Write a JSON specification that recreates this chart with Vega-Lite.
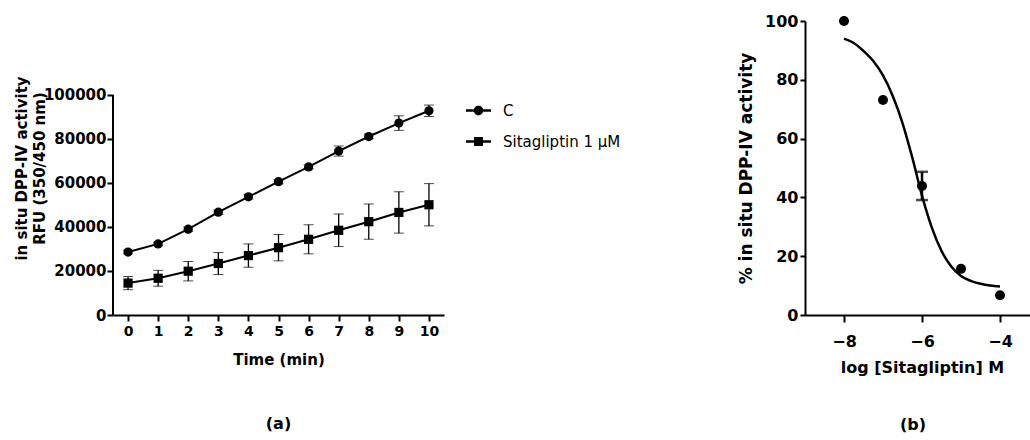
{
  "$schema": "https://vega.github.io/schema/vega-lite/v6.json",
  "padding": {"left": 14, "top": 13, "right": 0, "bottom": 0},
  "background": "white",
  "config": {
    "font": "DejaVu Sans",
    "view": {"stroke": null},
    "axis": {
      "grid": false,
      "domainColor": "black",
      "domainWidth": 2,
      "tickColor": "black",
      "tickWidth": 2,
      "labelColor": "black",
      "labelFont": "DejaVu Sans",
      "labelFontWeight": "bold",
      "titleColor": "black",
      "titleFont": "DejaVu Sans",
      "titleFontWeight": "bold",
      "labelOverlap": false
    },
    "legend": {
      "labelFont": "DejaVu Sans",
      "labelColor": "black"
    },
    "title": {"font": "DejaVu Sans", "fontWeight": "bold", "color": "black"}
  },
  "datasets": {
    "kinetics": [
      {"t": 0, "series": "C", "rfu": 28600, "lo": 27800, "hi": 29400},
      {"t": 1, "series": "C", "rfu": 32300, "lo": 31500, "hi": 33100},
      {"t": 2, "series": "C", "rfu": 39000, "lo": 38000, "hi": 40000},
      {"t": 3, "series": "C", "rfu": 46700, "lo": 45700, "hi": 47700},
      {"t": 4, "series": "C", "rfu": 53700, "lo": 52700, "hi": 54700},
      {"t": 5, "series": "C", "rfu": 60600, "lo": 59600, "hi": 61600},
      {"t": 6, "series": "C", "rfu": 67300, "lo": 66300, "hi": 68300},
      {"t": 7, "series": "C", "rfu": 74500, "lo": 72200, "hi": 76800},
      {"t": 8, "series": "C", "rfu": 81100, "lo": 80100, "hi": 82100},
      {"t": 9, "series": "C", "rfu": 87200, "lo": 83900, "hi": 90500},
      {"t": 10, "series": "C", "rfu": 92800, "lo": 90200, "hi": 95400},
      {"t": 0, "series": "Sitagliptin 1 µM", "rfu": 14500, "lo": 11500, "hi": 17500},
      {"t": 1, "series": "Sitagliptin 1 µM", "rfu": 16700, "lo": 13100, "hi": 20300},
      {"t": 2, "series": "Sitagliptin 1 µM", "rfu": 19900, "lo": 15500, "hi": 24300},
      {"t": 3, "series": "Sitagliptin 1 µM", "rfu": 23400, "lo": 18400, "hi": 28400},
      {"t": 4, "series": "Sitagliptin 1 µM", "rfu": 27000, "lo": 21700, "hi": 32300},
      {"t": 5, "series": "Sitagliptin 1 µM", "rfu": 30600, "lo": 24600, "hi": 36600},
      {"t": 6, "series": "Sitagliptin 1 µM", "rfu": 34400, "lo": 27800, "hi": 41000},
      {"t": 7, "series": "Sitagliptin 1 µM", "rfu": 38500, "lo": 31100, "hi": 45900},
      {"t": 8, "series": "Sitagliptin 1 µM", "rfu": 42400, "lo": 34400, "hi": 50400},
      {"t": 9, "series": "Sitagliptin 1 µM", "rfu": 46600, "lo": 37200, "hi": 56000},
      {"t": 10, "series": "Sitagliptin 1 µM", "rfu": 50100, "lo": 40500, "hi": 59700}
    ],
    "axisline": [{"t": -0.5, "lo": 0, "hi": 100000}],
    "dose": [
      {"logc": -8, "pct": 100},
      {"logc": -7, "pct": 73.1},
      {"logc": -6, "pct": 43.9, "lo": 39.1, "hi": 48.7},
      {"logc": -5, "pct": 15.7},
      {"logc": -4, "pct": 6.7}
    ],
    "fit": [
      {"logc": -8.0, "pct": 94.0},
      {"logc": -7.75, "pct": 92.5},
      {"logc": -7.5, "pct": 89.8},
      {"logc": -7.25, "pct": 86.4},
      {"logc": -7.0, "pct": 81.5},
      {"logc": -6.75, "pct": 74.5},
      {"logc": -6.5, "pct": 65.3},
      {"logc": -6.25, "pct": 53.6},
      {"logc": -6.0, "pct": 40.6},
      {"logc": -5.75, "pct": 29.8},
      {"logc": -5.5, "pct": 21.8},
      {"logc": -5.25, "pct": 16.5},
      {"logc": -5.0, "pct": 13.3},
      {"logc": -4.75, "pct": 11.6},
      {"logc": -4.5, "pct": 10.6},
      {"logc": -4.25, "pct": 10.0},
      {"logc": -4.0, "pct": 9.7}
    ]
  },
  "spacing": 116,
  "hconcat": [
    {
      "width": 331,
      "height": 294,
      "title": {"text": "(a)", "orient": "bottom", "fontSize": 16, "offset": 49},
      "layer": [
        {
          "data": {"name": "axisline"},
          "mark": {"type": "rule", "color": "black", "strokeWidth": 2},
          "encoding": {
            "x": {"field": "t", "type": "quantitative", "title": "Time (min)",
              "scale": {"domain": [-0.5, 10.5], "nice": false, "zero": false},
              "axis": {"values": [0,1,2,3,4,5,6,7,8,9,10], "labelFontSize": 14, "titleFontSize": 15, "tickSize": 6, "labelPadding": 3, "titlePadding": 14}},
            "y": {"field": "lo", "type": "quantitative", "title": ["in situ DPP-IV activity", "RFU (350/450 nm)"],
              "scale": {"domain": [0, 133600], "nice": false},
              "axis": {"values": [0, 20000, 40000, 60000, 80000, 100000], "format": "d", "domain": false, "labelFontSize": 15, "titleFontSize": 15, "titleLineHeight": 18, "tickSize": 6, "labelPadding": 1, "titlePadding": -4}},
            "y2": {"field": "hi"}
          }
        },
        {
          "data": {"name": "kinetics"},
          "mark": {"type": "errorbar", "color": "black", "ticks": {"size": 10}, "rule": {"strokeWidth": 1.3}},
          "encoding": {
            "x": {"field": "t", "type": "quantitative", "title": "Time (min)",
              "scale": {"domain": [-0.5, 10.5], "nice": false, "zero": false},
              "axis": {"values": [0,1,2,3,4,5,6,7,8,9,10], "labelFontSize": 14, "titleFontSize": 15, "tickSize": 6, "labelPadding": 3, "titlePadding": 14}},
            "y": {"field": "lo", "type": "quantitative", "title": ["in situ DPP-IV activity", "RFU (350/450 nm)"],
              "scale": {"domain": [0, 133600], "nice": false},
              "axis": {"values": [0, 20000, 40000, 60000, 80000, 100000], "format": "d", "domain": false, "labelFontSize": 15, "titleFontSize": 15, "titleLineHeight": 18, "tickSize": 6, "labelPadding": 1, "titlePadding": -4}},
            "y2": {"field": "hi"},
            "detail": {"field": "series"}
          }
        },
        {
          "data": {"name": "kinetics"},
          "mark": {"type": "line", "color": "black", "strokeWidth": 2},
          "encoding": {
            "x": {"field": "t", "type": "quantitative", "title": "Time (min)",
              "scale": {"domain": [-0.5, 10.5], "nice": false, "zero": false},
              "axis": {"values": [0,1,2,3,4,5,6,7,8,9,10], "labelFontSize": 14, "titleFontSize": 15, "tickSize": 6, "labelPadding": 3, "titlePadding": 14}},
            "y": {"field": "rfu", "type": "quantitative", "title": ["in situ DPP-IV activity", "RFU (350/450 nm)"],
              "scale": {"domain": [0, 133600], "nice": false},
              "axis": {"values": [0, 20000, 40000, 60000, 80000, 100000], "format": "d", "domain": false, "labelFontSize": 15, "titleFontSize": 15, "titleLineHeight": 18, "tickSize": 6, "labelPadding": 1, "titlePadding": -4}},
            "detail": {"field": "series"}
          }
        },
        {
          "data": {"name": "kinetics"},
          "transform": [{"filter": "datum.series === 'C'"}],
          "mark": {"type": "point", "filled": true, "color": "black", "opacity": 1, "size": 85, "shape": "circle"},
          "encoding": {
            "x": {"field": "t", "type": "quantitative", "title": "Time (min)",
              "scale": {"domain": [-0.5, 10.5], "nice": false, "zero": false},
              "axis": {"values": [0,1,2,3,4,5,6,7,8,9,10], "labelFontSize": 14, "titleFontSize": 15, "tickSize": 6, "labelPadding": 3, "titlePadding": 14}},
            "y": {"field": "rfu", "type": "quantitative", "title": ["in situ DPP-IV activity", "RFU (350/450 nm)"],
              "scale": {"domain": [0, 133600], "nice": false},
              "axis": {"values": [0, 20000, 40000, 60000, 80000, 100000], "format": "d", "domain": false, "labelFontSize": 15, "titleFontSize": 15, "titleLineHeight": 18, "tickSize": 6, "labelPadding": 1, "titlePadding": -4}}
          }
        },
        {
          "data": {"name": "kinetics"},
          "transform": [{"filter": "datum.series !== 'C'"}],
          "mark": {"type": "point", "filled": true, "color": "black", "opacity": 1, "size": 85, "shape": "square"},
          "encoding": {
            "x": {"field": "t", "type": "quantitative", "title": "Time (min)",
              "scale": {"domain": [-0.5, 10.5], "nice": false, "zero": false},
              "axis": {"values": [0,1,2,3,4,5,6,7,8,9,10], "labelFontSize": 14, "titleFontSize": 15, "tickSize": 6, "labelPadding": 3, "titlePadding": 14}},
            "y": {"field": "rfu", "type": "quantitative", "title": ["in situ DPP-IV activity", "RFU (350/450 nm)"],
              "scale": {"domain": [0, 133600], "nice": false},
              "axis": {"values": [0, 20000, 40000, 60000, 80000, 100000], "format": "d", "domain": false, "labelFontSize": 15, "titleFontSize": 15, "titleLineHeight": 18, "tickSize": 6, "labelPadding": 1, "titlePadding": -4}}
          }
        },
        {
          "data": {"name": "kinetics"},
          "mark": {"type": "point", "filled": true, "color": "black", "opacity": 0, "size": 85},
          "encoding": {
            "x": {"field": "t", "type": "quantitative", "title": "Time (min)",
              "scale": {"domain": [-0.5, 10.5], "nice": false, "zero": false},
              "axis": {"values": [0,1,2,3,4,5,6,7,8,9,10], "labelFontSize": 14, "titleFontSize": 15, "tickSize": 6, "labelPadding": 3, "titlePadding": 14}},
            "y": {"field": "rfu", "type": "quantitative", "title": ["in situ DPP-IV activity", "RFU (350/450 nm)"],
              "scale": {"domain": [0, 133600], "nice": false},
              "axis": {"values": [0, 20000, 40000, 60000, 80000, 100000], "format": "d", "domain": false, "labelFontSize": 15, "titleFontSize": 15, "titleLineHeight": 18, "tickSize": 6, "labelPadding": 1, "titlePadding": -4}},
            "shape": {
              "field": "series", "type": "nominal",
              "scale": {"domain": ["C", "Sitagliptin 1 µM"], "range": ["M-1,-0.1H1V0.1H-1ZM0.38,0A0.38,0.38 0 1 1 -0.38,0A0.38,0.38 0 1 1 0.38,0Z", "M-1,-0.1H1V0.1H-1ZM-0.36,-0.36H0.36V0.36H-0.36Z"]},
              "legend": {
                "title": null,
                "orient": "none",
                "legendX": 352,
                "legendY": 76,
                "padding": 0,
                "labelFontSize": 15,
                "labelOffset": 11,
                "rowPadding": 9,
                "symbolSize": 625,
                "symbolOpacity": 1,
                "symbolFillColor": "black"
              }
            }
          }
        }
      ]
    },
    {
      "width": 234,
      "height": 294,
      "title": {"text": "(b)", "orient": "bottom", "fontSize": 16, "offset": 42, "dx": -9},
      "layer": [
        {
          "data": {"name": "fit"},
          "mark": {"type": "line", "color": "black", "strokeWidth": 2.5, "interpolate": "monotone"},
          "encoding": {
            "x": {"field": "logc", "type": "quantitative", "title": "log [Sitagliptin] M",
              "scale": {"domain": [-9, -3], "nice": false, "zero": false},
              "axis": {"values": [-8, -6, -4], "labelFontSize": 16, "titleFontSize": 16, "tickSize": 7, "labelPadding": 11, "titlePadding": 10}},
            "y": {"field": "pct", "type": "quantitative", "title": "% in situ DPP-IV activity",
              "scale": {"domain": [0, 100], "nice": false},
              "axis": {"values": [0, 20, 40, 60, 80, 100], "labelFontSize": 16, "titleFontSize": 17, "tickSize": 5, "labelPadding": 2, "titlePadding": 9}}
          }
        },
        {
          "data": {"name": "dose"},
          "transform": [{"filter": "isValid(datum.lo)"}],
          "mark": {"type": "errorbar", "color": "black", "ticks": {"size": 12, "thickness": 2.5}, "rule": {"strokeWidth": 2.5}},
          "encoding": {
            "x": {"field": "logc", "type": "quantitative", "title": "log [Sitagliptin] M",
              "scale": {"domain": [-9, -3], "nice": false, "zero": false},
              "axis": {"values": [-8, -6, -4], "labelFontSize": 16, "titleFontSize": 16, "tickSize": 7, "labelPadding": 11, "titlePadding": 10}},
            "y": {"field": "lo", "type": "quantitative", "title": "% in situ DPP-IV activity",
              "scale": {"domain": [0, 100], "nice": false},
              "axis": {"values": [0, 20, 40, 60, 80, 100], "labelFontSize": 16, "titleFontSize": 17, "tickSize": 5, "labelPadding": 2, "titlePadding": 9}},
            "y2": {"field": "hi"}
          }
        },
        {
          "data": {"name": "dose"},
          "mark": {"type": "point", "filled": true, "color": "black", "opacity": 1, "size": 100, "shape": "circle"},
          "encoding": {
            "x": {"field": "logc", "type": "quantitative", "title": "log [Sitagliptin] M",
              "scale": {"domain": [-9, -3], "nice": false, "zero": false},
              "axis": {"values": [-8, -6, -4], "labelFontSize": 16, "titleFontSize": 16, "tickSize": 7, "labelPadding": 11, "titlePadding": 10}},
            "y": {"field": "pct", "type": "quantitative", "title": "% in situ DPP-IV activity",
              "scale": {"domain": [0, 100], "nice": false},
              "axis": {"values": [0, 20, 40, 60, 80, 100], "labelFontSize": 16, "titleFontSize": 17, "tickSize": 5, "labelPadding": 2, "titlePadding": 9}}
          }
        }
      ]
    }
  ],
  "resolve": {"scale": {"x": "independent", "y": "independent", "shape": "independent"}}
}
